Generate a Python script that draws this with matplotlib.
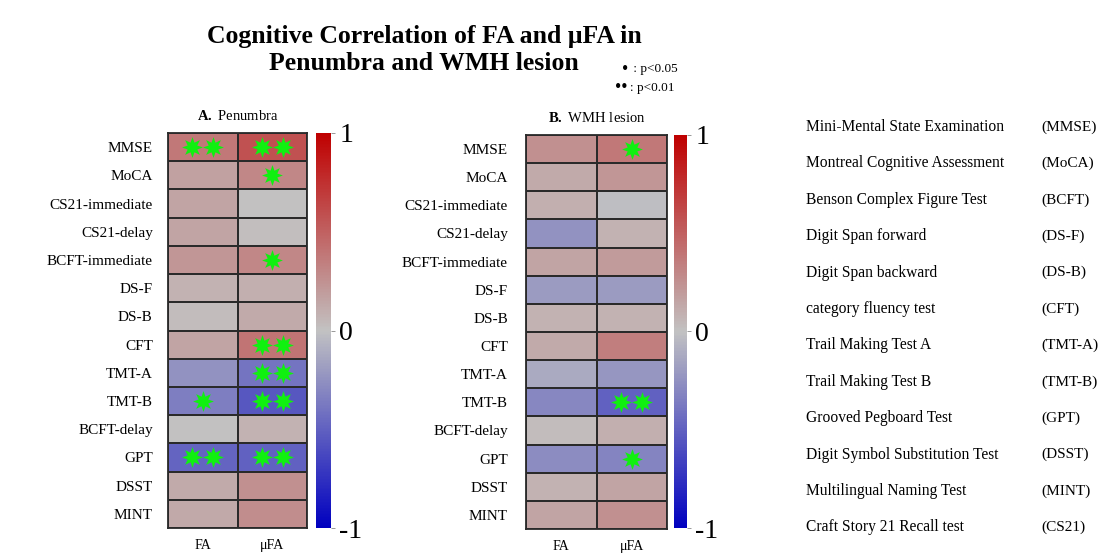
import numpy as np
import matplotlib
matplotlib.use('Agg')
import matplotlib.pyplot as plt
from matplotlib.colors import LinearSegmentedColormap

plt.rcParams['font.family'] = ['Liberation Serif', 'DejaVu Serif']
plt.rcParams['mathtext.fontset'] = 'custom'
plt.rcParams['mathtext.rm'] = 'Liberation Serif'
plt.rcParams['mathtext.bf'] = 'Liberation Serif:bold'

tests = ['MMSE', 'MoCA', 'CS21-immediate', 'CS21-delay', 'BCFT-immediate', 'DS-F', 'DS-B',
         'CFT', 'TMT-A', 'TMT-B', 'BCFT-delay', 'GPT', 'DSST', 'MINT']
metrics = ['FA', 'μFA']

# correlation coefficients (rows = tests, columns = FA, μFA)
pen_fa = [0.38, 0.17, 0.15, 0.15, 0.22, 0.08, 0.03, 0.15, -0.25, -0.35, 0.0, -0.48, 0.12, 0.13]
pen_mufa = [0.58, 0.30, 0.0, 0.02, 0.30, 0.10, 0.12, 0.40, -0.40, -0.55, 0.08, -0.50, 0.25, 0.27]
wmh_fa = [0.25, 0.12, 0.10, -0.25, 0.15, -0.20, 0.08, 0.12, -0.12, -0.30, 0.03, -0.28, 0.08, 0.15]
wmh_mufa = [0.38, 0.22, -0.02, 0.08, 0.20, -0.20, 0.08, 0.35, -0.22, -0.50, 0.10, -0.32, 0.15, 0.25]

# significance level: 0 none, 1 p<0.05, 2 p<0.01
pen_sig_fa = [2, 0, 0, 0, 0, 0, 0, 0, 0, 1, 0, 2, 0, 0]
pen_sig_mufa = [2, 1, 0, 0, 1, 0, 0, 2, 2, 2, 0, 2, 0, 0]
wmh_sig_fa = [0] * 14
wmh_sig_mufa = [1, 0, 0, 0, 0, 0, 0, 0, 0, 2, 0, 1, 0, 0]

full_names = ['Mini-Mental State Examination', 'Montreal Cognitive Assessment',
              'Benson Complex Figure Test', 'Digit Span forward', 'Digit Span backward',
              'category fluency test', 'Trail Making Test A', 'Trail Making Test B',
              'Grooved Pegboard Test', 'Digit Symbol Substitution Test',
              'Multilingual Naming Test', 'Craft Story 21 Recall test']
abbrevs = ['(MMSE)', '(MoCA)', '(BCFT)', '(DS-F)', '(DS-B)', '(CFT)', '(TMT-A)', '(TMT-B)',
           '(GPT)', '(DSST)', '(MINT)', '(CS21)']

cmap = LinearSegmentedColormap.from_list(
    'bgr', [(0.0, 0.0, 0.75), (0.76, 0.76, 0.76), (0.75, 0.0, 0.0)])

W, H = 1102, 553
fig = plt.figure(figsize=(W / 100, H / 100), dpi=100)


def heatmap(rect, cbar_rect, fa, mufa, sig_fa, sig_mufa, panel, name, label_pad):
    ax = fig.add_axes(rect)
    data = np.column_stack([fa, mufa])
    sig = np.column_stack([sig_fa, sig_mufa])
    mesh = ax.pcolormesh(data, cmap=cmap, vmin=-1, vmax=1,
                         edgecolors='#2a2a2a', linewidth=1.3)
    ax.set_xlim(0, 2)
    ax.set_ylim(len(tests), 0)
    for i in range(len(tests)):
        for j in range(2):
            n = sig[i, j]
            if n == 1:
                xs = [j + 0.5]
            elif n == 2:
                xs = [j + 0.35, j + 0.65]
            else:
                continue
            ax.plot(xs, [i + 0.5] * len(xs), linestyle='none', marker=(8, 1, 0),
                    markersize=15, color='#10f010', markeredgewidth=0)
    ax.set_yticks(np.arange(len(tests)) + 0.5)
    ax.set_yticklabels(tests, fontsize=11)
    ax.set_xticks([0.5, 1.5])
    ax.set_xticklabels(metrics, fontsize=10)
    ax.tick_params(length=0, pad=label_pad)
    ax.tick_params(axis='x', pad=8)
    for s in ax.spines.values():
        s.set_linewidth(1.3)
        s.set_color('#2a2a2a')
    ax.text(0.5, 1.025, r'$\mathbf{' + panel + '.}$ ' + name, transform=ax.transAxes,
            ha='center', va='bottom', fontsize=10.5)

    cax = fig.add_axes(cbar_rect)
    cb = fig.colorbar(mesh, cax=cax, ticks=[-1, 0, 1])
    cb.ax.set_yticklabels(['-1', '0', '1'], fontsize=20)
    cb.ax.tick_params(length=3, width=0.6, color='#888888', pad=3)
    cb.outline.set_visible(False)
    return ax


heatmap([0.1525, 0.0452, 0.1261, 0.7143], [0.2868, 0.0452, 0.0136, 0.7143],
        pen_fa, pen_mufa, pen_sig_fa, pen_sig_mufa, 'A', 'Penumbra', 11)
heatmap([0.4773, 0.0434, 0.1280, 0.7125], [0.6116, 0.0452, 0.0118, 0.7107],
        wmh_fa, wmh_mufa, wmh_sig_fa, wmh_sig_mufa, 'B', 'WMH lesion', 13)

fig.text(424 / W, 1 - 43 / H, 'Cognitive Correlation of FA and μFA in',
         ha='center', va='baseline', fontsize=18.5, fontweight='bold')
fig.text(424 / W, 1 - 70 / H, 'Penumbra and WMH lesion',
         ha='center', va='baseline', fontsize=18.5, fontweight='bold')

# significance key
fig.text(628 / W, 1 - 69 / H, '•', ha='right', va='center', fontsize=13)
fig.text(630 / W, 1 - 69 / H, ' : p<0.05', ha='left', va='center', fontsize=9.5)
fig.text(628 / W, 1 - 88 / H, '••', ha='right', va='center', fontsize=13)
fig.text(630 / W, 1 - 88 / H, ': p<0.01', ha='left', va='center', fontsize=9.5)

y_top, y_step = 127, 36.4
for k, (nm, ab) in enumerate(zip(full_names, abbrevs)):
    y = 1 - (y_top + k * y_step) / H
    fig.text(806 / W, y, nm, ha='left', va='center', fontsize=11.2)
    fig.text(1041 / W, y, ab, ha='left', va='center', fontsize=11)

fig.savefig('out.png', dpi=100)
